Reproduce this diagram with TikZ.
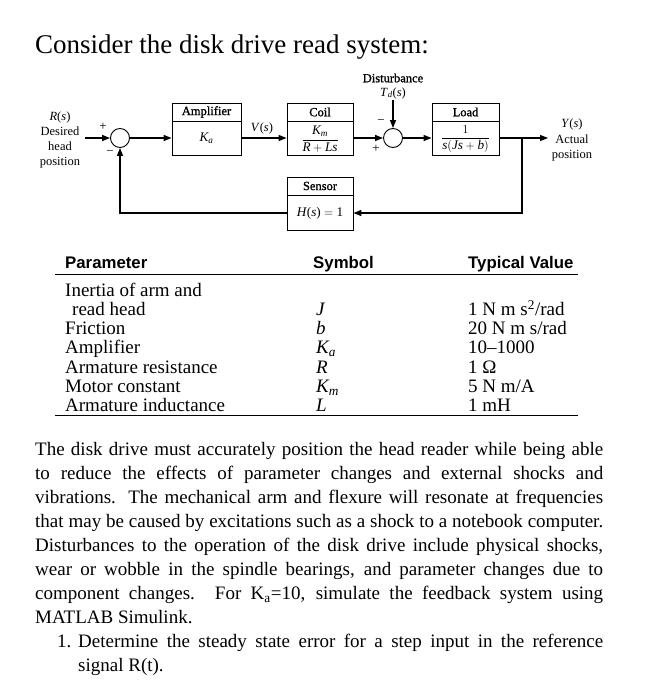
\documentclass[tikz,border=0pt]{standalone}
\usepackage{amsmath}
\usepackage{fontspec}
\setmainfont{Liberation Serif}
\newfontfamily\hdrfont{Liberation Sans}
\newfontface\dgb[FakeBold=1.2]{Liberation Serif}
\usetikzlibrary{arrows.meta}
\newcommand{\mi}[1]{\textit{#1}}
\begin{document}
\begin{tikzpicture}[x=1pt,y=-1pt,
  blk/.style={draw, line width=0.9pt, inner sep=0pt},
  sumj/.style={draw, circle, line width=0.9pt, minimum size=19pt, inner sep=0pt},
  wire/.style={line width=1.3pt},
  sig/.style={line width=1.3pt, -{Triangle[length=8pt,width=6pt]}},
  lbl/.style={font=\fontsize{12.5}{15.3}\selectfont, inner sep=0pt, align=center},
  frc/.style={font=\fontsize{13.2}{15}\selectfont, inner sep=0pt},
  ttl/.style={font=\fontsize{12.5}{14}\selectfont\dgb, inner sep=0pt},
  sgn/.style={font=\fontsize{13}{13}\selectfont, inner sep=0pt},
  hdr/.style={font=\fontsize{16.8}{20}\selectfont\hdrfont\bfseries, inner sep=0pt, anchor=base west},
  row/.style={font=\fontsize{19}{19}\selectfont, inner sep=0pt, anchor=base west},
  par/.style={font=\fontsize{19}{24}\selectfont, inner sep=0pt, anchor=base west},
  rulel/.style={line width=1.5pt}
]
\useasboundingbox (0,0) rectangle (650,700);

% title
\node[font=\fontsize{27}{30}\selectfont, inner sep=0pt, anchor=base west] (title) at (35,54) {Consider the disk drive read system:};

% blocks
\node[blk, minimum width=69pt, minimum height=52pt] (amp) at (206.5,129) {};
\draw[line width=0.9pt] (amp.west |- 0,121) -- (amp.east |- 0,121);
\node[ttl] (ampT) at (206.5,112) {Amplifier};
\node[frc] (ampK) at (206.5,138.5) {$\mi{K}_{\mi{a}}$};

\node[blk, minimum width=66pt, minimum height=52pt] (coil) at (320,129) {};
\draw[line width=0.9pt] (coil.west |- 0,121) -- (coil.east |- 0,121);
\node[ttl] (coilT) at (320,112) {Coil};
\node[frc] (coilF) at (320,139) {$\dfrac{\mi{K}_{\mi{m}}}{\mi{R}+\mi{Ls}}$};

\node[blk, minimum width=67pt, minimum height=52pt] (load) at (465.5,129) {};
\draw[line width=0.9pt] (load.west |- 0,121) -- (load.east |- 0,121);
\node[ttl] (loadT) at (465.5,112) {Load};
\node[frc] (loadF) at (465.5,139) {$\dfrac{1}{\mi{s}(\mi{Js}+\mi{b})}$};

\node[blk, minimum width=66pt, minimum height=53pt] (sens) at (320,203.5) {};
\draw[line width=0.9pt] (sens.west |- 0,195) -- (sens.east |- 0,195);
\node[ttl] (sensT) at (320,186) {Sensor};
\node[frc] (sensH) at (320,213) {\mi{H}(\mi{s}) $=$ 1};

% summing junctions
\node[sumj] (s1) at (120,138) {};
\node[sumj] (s2) at (393,138) {};

% coordinates
\coordinate (in) at (85,138);
\coordinate (br) at (522,138);
\coordinate (out) at (548,138);
\coordinate (fbR) at (522,213);
\coordinate (fbL) at (120,213);
\coordinate (dist) at (393,100);

% connectors
\draw[sig] (in) -- (s1);
\draw[sig] (s1) -- (s1 -| amp.west);
\draw[sig] (amp.east |- s1) -- (coil.west |- s1);
\draw[sig] (coil.east |- s1) -- (s2);
\draw[sig] (s2) -- (load.west |- s2);
\draw[wire] (load.east |- s2) -- (br);
\draw[sig] (br) -- (out);
\draw[sig] (br) -- (fbR) -- (fbR -| sens.east);
\draw[sig] (fbR -| sens.west) -- (fbL) -- (s1);
\draw[sig] (dist) -- (s2);

% labels
\node[lbl] (rs) at (60,140) {\mi{R}(\mi{s})\\Desired\\head\\position};
\node[lbl] (ys) at (572,140) {\mi{Y}(\mi{s})\\Actual\\position};
\node[lbl] (vs) at (262,128) {\mi{V}(\mi{s})};
\node[ttl] (dt) at (393,78) {Disturbance};
\node[lbl] (td) at (393,93) {\mi{T}\textsubscript{\mi{d}}(\mi{s})};
\node[sgn] (p1) at (103,127) {+};
\node[sgn] (m1) at (110,153) {−};
\node[sgn] (m2) at (381,122) {−};
\node[sgn] (p2) at (376,149) {+};

% table
\node[hdr] (hP) at (65,268) {Parameter};
\node[hdr] (hS) at (313,268) {Symbol};
\node[hdr] (hT) at (468,268) {Typical Value};
\draw[rulel] (55,274.5) -- (578,274.5);
\draw[rulel] (55,415.5) -- (578,415.5);

\node[row] (r1a) at (65,296) {Inertia of arm and};
\node[row] (r1b) at (72,315.3) {read head};
\node[row] (r2) at (65,334.6) {Friction};
\node[row] (r3) at (65,353.9) {Amplifier};
\node[row] (r4) at (65,373.2) {Armature resistance};
\node[row] (r5) at (65,392.5) {Motor constant};
\node[row] (r6) at (65,411.8) {Armature inductance};

\node[row] (s1r) at (316,315.3) {\mi{J}};
\node[row] (s2r) at (316,334.6) {\mi{b}};
\node[row] (s3r) at (316,353.9) {$\mi{K}_{\mi{a}}$};
\node[row] (s4r) at (316,373.2) {\mi{R}};
\node[row] (s5r) at (316,392.5) {$\mi{K}_{\mi{m}}$};
\node[row] (s6r) at (316,411.8) {\mi{L}};

\node[row] (v1) at (468,315.3) {1 N m s\textsuperscript{2}/rad};
\node[row] (v2) at (468,334.6) {20 N m s/rad};
\node[row] (v3) at (468,353.9) {10–1000};
\node[row] (v4) at (468,373.2) {1 Ω};
\node[row] (v5) at (468,392.5) {5 N m/A};
\node[row] (v6) at (468,411.8) {1 mH};

% paragraph
\node[par] (l1) at (35,455) {\makebox[568pt][s]{The disk drive must accurately position the head reader while being able}};
\node[par] (l2) at (35,479.1) {\makebox[568pt][s]{to reduce the effects of parameter changes and external shocks and}};
\node[par] (l3) at (35,503.2) {\makebox[568pt][s]{vibrations. The mechanical arm and flexure will resonate at frequencies}};
\node[par] (l4) at (35,527.3) {\makebox[568pt][s]{that may be caused by excitations such as a shock to a notebook computer.}};
\node[par] (l5) at (35,551.4) {\makebox[568pt][s]{Disturbances to the operation of the disk drive include physical shocks,}};
\node[par] (l6) at (35,575.5) {\makebox[568pt][s]{wear or wobble in the spindle bearings, and parameter changes due to}};
\node[par] (l7) at (35,599.6) {\makebox[568pt][s]{component changes. For K\textsubscript{a}=10, simulate the feedback system using}};
\node[par] (l8) at (35,623.7) {MATLAB Simulink.};
\node[par] (l9n) at (57,647.8) {1.};
\node[par] (l9) at (78,647.8) {\makebox[525pt][s]{Determine the steady state error for a step input in the reference}};
\node[par] (l10) at (78,671.9) {signal R(t).};
\end{tikzpicture}
\end{document}
